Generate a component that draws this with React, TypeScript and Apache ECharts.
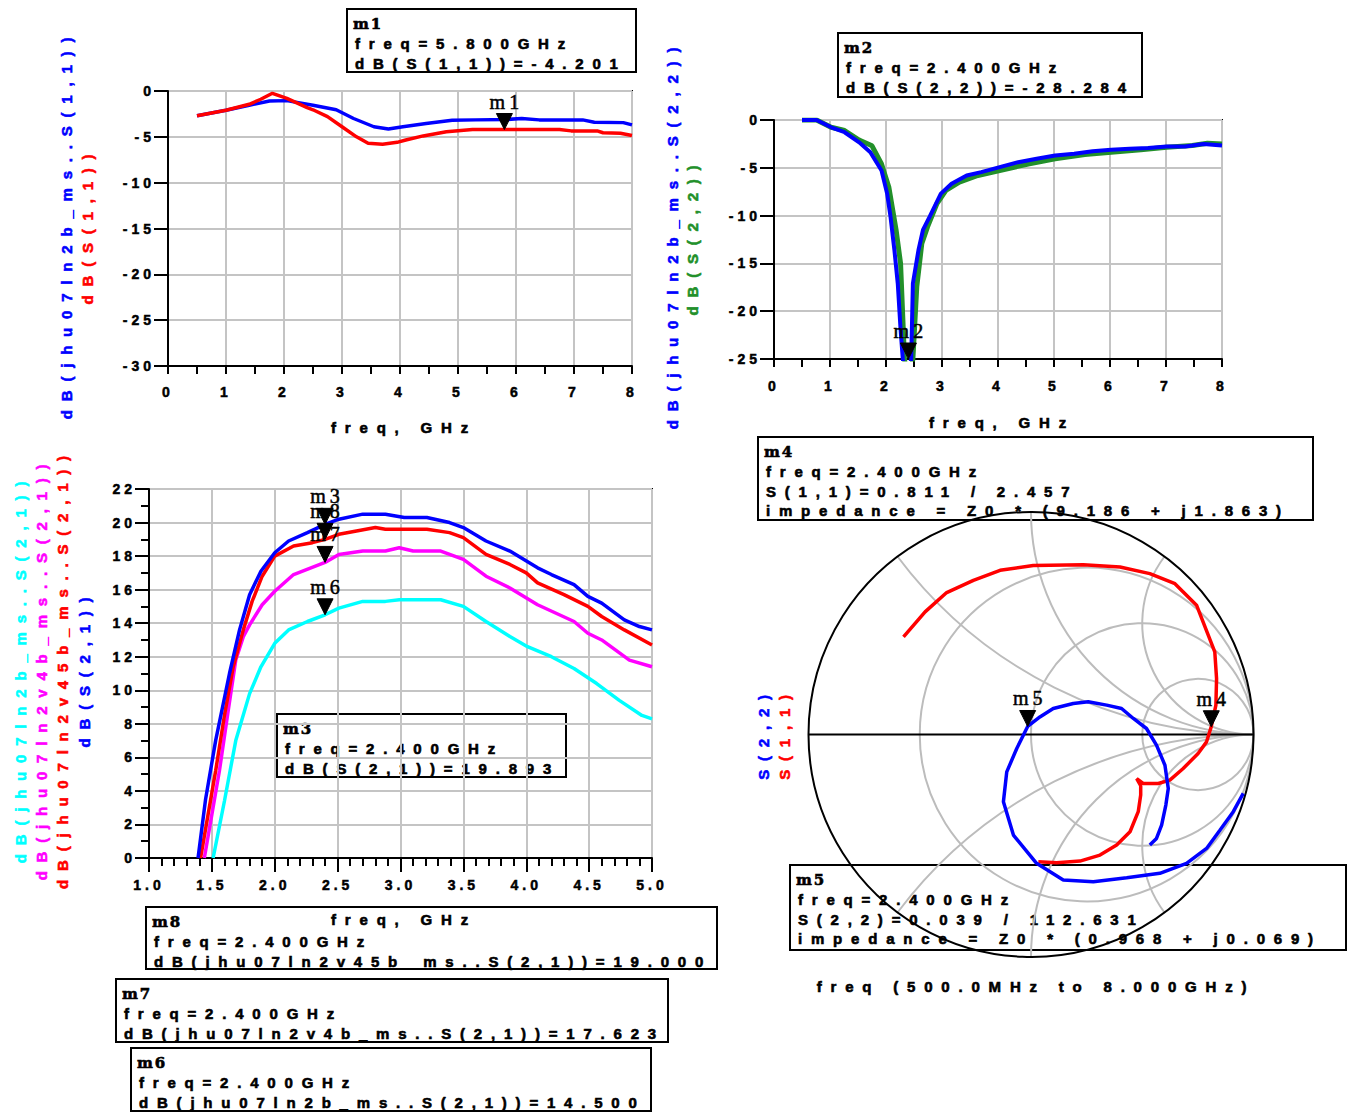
import React, { useEffect, useRef } from 'react';
import * as echarts from 'echarts';

/* ---------- |S11| in dB, 0.5–8 GHz ---------- */
const S11_REF_FREQ = [0.5, 1.0, 1.4, 1.75, 2.05, 2.5, 2.9, 3.2, 3.55, 3.8, 4.05, 4.45, 4.9, 5.3, 5.85, 6.1, 6.4, 7.15, 7.35, 7.85, 8.0];
const S11_REF_DB = [-2.7, -2.1, -1.55, -1.1, -1.05, -1.55, -2.05, -3.0, -3.9, -4.15, -3.9, -3.55, -3.2, -3.15, -3.1, -3.0, -3.15, -3.15, -3.4, -3.45, -3.7];
const S11_FREQ = [0.5, 1.0, 1.4, 1.6, 1.8, 2.05, 2.4, 2.5, 2.75, 3.0, 3.25, 3.45, 3.7, 3.95, 4.1, 4.4, 4.8, 5.05, 5.25, 5.8, 6.75, 6.95, 7.4, 7.5, 7.8, 8.0];
const S11_DB = [-2.7, -2.1, -1.45, -0.9, -0.25, -0.8, -1.82, -2.05, -2.8, -3.9, -5.0, -5.7, -5.8, -5.6, -5.35, -4.9, -4.45, -4.3, -4.2, -4.201, -4.2, -4.35, -4.35, -4.55, -4.6, -4.85];

/* ---------- |S22| in dB, 0.5–8 GHz ---------- */
const S22_REF_FREQ = [0.5, 0.76, 1.02, 1.26, 1.52, 1.72, 1.92, 2.02, 2.08, 2.15, 2.21, 2.26, 2.3, 2.37, 2.45, 2.48, 2.58, 2.66, 2.78, 2.98, 3.17, 3.44, 3.7, 4.03, 4.36, 4.69, 5.02, 5.36, 5.69, 6.02, 6.35, 6.68, 7.01, 7.34, 7.67, 8.0];
const S22_REF_DB = [0, 0, -0.76, -1.28, -2.33, -3.37, -5.28, -7.7, -10.1, -13.6, -17.1, -21.9, -25, -27.5, -25, -17.1, -13.6, -11.5, -10.1, -7.7, -6.67, -5.8, -5.45, -4.93, -4.41, -4.06, -3.72, -3.54, -3.26, -3.12, -3.02, -2.92, -2.78, -2.78, -2.5, -2.67];
const S22_FREQ = [0.5, 0.76, 1.02, 1.26, 1.52, 1.75, 1.92, 2.05, 2.18, 2.26, 2.33, 2.4, 2.48, 2.55, 2.64, 2.74, 2.91, 3.07, 3.31, 3.64, 4.03, 4.56, 5.02, 5.55, 6.02, 6.55, 7.01, 7.47, 7.74, 8.0];
const S22_DB = [0, 0, -0.76, -1.1, -2.1, -2.7, -4.6, -7.0, -11.5, -15.0, -25, -28.284, -25, -17.4, -12.9, -11.2, -8.75, -7.36, -6.5, -5.8, -5.28, -4.58, -4.06, -3.6, -3.37, -3.12, -2.85, -2.67, -2.43, -2.5];

/* ---------- |S21| gain in dB, 1–5 GHz ---------- */
const S21_LN2B_FREQ = [1.51, 1.6, 1.69, 1.8, 1.89, 2.0, 2.11, 2.26, 2.4, 2.51, 2.7, 2.88, 2.99, 3.32, 3.5, 3.68, 3.87, 4.01, 4.2, 4.38, 4.56, 4.74, 4.92, 5.0];
const S21_LN2B_DB = [0, 3.4, 7.0, 9.8, 11.4, 12.8, 13.6, 14.1, 14.5, 14.9, 15.3, 15.3, 15.4, 15.4, 15.0, 14.1, 13.2, 12.6, 12.0, 11.3, 10.4, 9.4, 8.5, 8.3];
const S21_V4B_FREQ = [1.44, 1.5, 1.56, 1.63, 1.69, 1.75, 1.8, 1.9, 2.0, 2.15, 2.4, 2.51, 2.7, 2.88, 2.99, 3.1, 3.32, 3.5, 3.68, 3.87, 4.09, 4.38, 4.49, 4.6, 4.82, 5.0];
const S21_V4B_DB = [0, 2.6, 5.2, 8.8, 11.8, 13.2, 13.9, 15.1, 15.9, 16.9, 17.623, 18.1, 18.3, 18.3, 18.5, 18.3, 18.3, 17.8, 16.8, 16.1, 15.1, 14.1, 13.4, 13.0, 11.8, 11.4];
const S21_V45B_FREQ = [1.41, 1.47, 1.53, 1.6, 1.67, 1.75, 1.82, 1.9, 2.0, 2.15, 2.3, 2.4, 2.51, 2.65, 2.8, 2.88, 3.05, 3.21, 3.39, 3.5, 3.68, 3.87, 4.0, 4.09, 4.3, 4.49, 4.6, 4.78, 5.0];
const S21_V45B_DB = [0, 2.6, 5.2, 8.5, 11.4, 13.6, 15.3, 16.8, 18.0, 18.6, 18.8, 19.0, 19.3, 19.5, 19.7, 19.6, 19.6, 19.6, 19.4, 19.1, 18.1, 17.5, 17.0, 16.4, 15.7, 15.0, 14.4, 13.6, 12.7];
const S21_FREQ = [1.39, 1.45, 1.53, 1.64, 1.72, 1.8, 1.89, 2.0, 2.11, 2.26, 2.4, 2.51, 2.7, 2.88, 3.03, 3.21, 3.39, 3.5, 3.68, 3.87, 4.09, 4.2, 4.38, 4.49, 4.6, 4.78, 4.9, 5.0];
const S21_DB = [0, 3.5, 7.0, 11.0, 13.6, 15.7, 17.1, 18.2, 18.9, 19.4, 19.893, 20.2, 20.5, 20.5, 20.3, 20.3, 20.0, 19.7, 18.9, 18.3, 17.3, 16.9, 16.3, 15.6, 15.2, 14.2, 13.8, 13.6];

/* ---------- Reflection coefficients on the Smith chart (Re, Im) ---------- */
const SMITH_S11_RE = [-0.573, -0.476, -0.379, -0.259, -0.139, 0.010, 0.235, 0.400, 0.534, 0.647, 0.744, 0.826, 0.834, 0.831, 0.810, 0.789, 0.751, 0.684, 0.624, 0.572, 0.504, 0.475, 0.493, 0.493, 0.482, 0.445, 0.385, 0.310, 0.220, 0.115, 0.033];
const SMITH_S11_IM = [0.439, 0.551, 0.638, 0.693, 0.738, 0.760, 0.763, 0.753, 0.723, 0.678, 0.581, 0.371, 0.251, 0.132, 0.035, -0.033, -0.085, -0.153, -0.205, -0.220, -0.220, -0.198, -0.230, -0.272, -0.347, -0.437, -0.497, -0.542, -0.569, -0.576, -0.572];
const SMITH_S22_RE = [0.954, 0.909, 0.849, 0.789, 0.699, 0.579, 0.430, 0.280, 0.145, 0.025, -0.079, -0.124, -0.109, -0.064, -0.015, 0.040, 0.100, 0.190, 0.257, 0.340, 0.407, 0.460, 0.519, 0.564, 0.602, 0.617, 0.606, 0.587, 0.564, 0.534];
const SMITH_S22_IM = [-0.265, -0.347, -0.430, -0.512, -0.579, -0.624, -0.644, -0.662, -0.654, -0.579, -0.452, -0.302, -0.168, -0.063, 0.036, 0.079, 0.117, 0.139, 0.147, 0.132, 0.117, 0.072, 0.027, -0.048, -0.138, -0.243, -0.317, -0.407, -0.467, -0.497];

/* Smith chart grid: constant-resistance circles and constant-reactance arcs */
const SMITH_R_CIRCLES = [1 / 3, 1, 3];
const SMITH_X_ARCS = [0.5, 1, 2, -0.5, -1, -2];

/* ---------- Markers ---------- */
const M1 = { name: 'm1', freq: 5.8, db: -4.201 };
const M2 = { name: 'm2', freq: 2.4, db: -28.284 };
const M3 = { name: 'm3', freq: 2.4, db: 19.893 };
const M8 = { name: 'm8', freq: 2.4, db: 19.0 };
const M7 = { name: 'm7', freq: 2.4, db: 17.623 };
const M6 = { name: 'm6', freq: 2.4, db: 14.5 };
const M4 = { name: 'm4', freq: 2.4, mag: 0.811, ang: 2.457, zr: 9.186, zx: 1.863 };
const M5 = { name: 'm5', freq: 2.4, mag: 0.039, ang: 112.631, zr: 0.968, zx: 0.069 };

/* ---------- Fonts ---------- */
const FONT_SANS = 'Liberation Sans';
const FONT_MARK = 'Liberation Serif';
const FONT_HEAD = 'DejaVu Serif';

// Wide character pitch of the data display: 15px body text, 14px tick labels.
const SHEET_CSS = `
.ads-sheet text[style*="Liberation Sans"][style*="15px"] { letter-spacing: 8.8px; }
.ads-sheet text[style*="Liberation Sans"][style*="14px"] { letter-spacing: 4px; }
.ads-sheet text[style*="Liberation Serif"] { letter-spacing: 4px; }
.ads-sheet text[style*="DejaVu Serif"] { letter-spacing: 2px; }
`;

const BLUE = '#0000ff';
const RED = '#ff0000';
const GREEN = '#22902a';
const CYAN = '#00ffff';
const MAGENTA = '#ff00ff';
const GRID_GRAY = '#c4c4c4';
const SMITH_GRAY = '#bcbcbc';

const TL_YMIN = -30;
const TR_YMIN = -25;

const zip = (a: number[], b: number[]) => a.map((v, i) => [v, b[i]]);
const fixed3 = (v: number) => v.toFixed(3);
const polar = (mag: number, deg: number) => [mag * Math.cos((deg * Math.PI) / 180), mag * Math.sin((deg * Math.PI) / 180)];

function lineSeries(data: number[][], color: string, width: number, axis: number) {
  return {
    type: 'line',
    data,
    xAxisIndex: axis,
    yAxisIndex: axis,
    showSymbol: false,
    symbol: 'none',
    clip: true,
    silent: true,
    lineStyle: { color, width },
    itemStyle: { color },
    z: 3,
  };
}

// Heavy text: fill plus a thin stroke of the same colour.
function textStyle(text: string, font: string, fill: string, align: string, vAlign: string, weight = 0.6) {
  return {
    text,
    font,
    fill,
    stroke: fill,
    lineWidth: weight,
    align,
    verticalAlign: vAlign,
    textAlign: align,
    textVerticalAlign: vAlign,
  };
}

// Inverted black triangle whose tip sits on the marker value, with its name above.
function markerSeries(axis: number, marks: { name: string }[], values: number[][]) {
  return {
    type: 'custom',
    xAxisIndex: axis,
    yAxisIndex: axis,
    silent: true,
    clip: false,
    z: 10,
    data: values,
    renderItem: (params: any, api: any) => {
      const p = api.coord([api.value(0), api.value(1)]);
      return {
        type: 'group',
        children: [
          {
            type: 'polygon',
            shape: { points: [[p[0] - 8, p[1] - 16], [p[0] + 8, p[1] - 16], [p[0], p[1]]] },
            style: { fill: '#000', stroke: '#000', lineWidth: 1 },
          },
          {
            type: 'text',
            x: p[0] + 2,
            y: p[1] - 28,
            style: textStyle(marks[params.dataIndex].name, `20px ${FONT_MARK}`, '#000', 'center', 'middle', 0.5),
          },
        ],
      };
    },
  };
}

function smithGridSeries(axis: number) {
  return {
    type: 'custom',
    xAxisIndex: axis,
    yAxisIndex: axis,
    silent: true,
    clip: false,
    z: 1,
    data: [[0, 0]],
    renderItem: (_params: any, api: any) => {
      const c = api.coord([0, 0]);
      const R = api.size([1, 1])[0];
      const gray = { stroke: SMITH_GRAY, fill: 'none', lineWidth: 2 };
      const children: any[] = [];
      SMITH_R_CIRCLES.forEach((r) => {
        const cc = api.coord([r / (1 + r), 0]);
        children.push({ type: 'circle', shape: { cx: cc[0], cy: cc[1], r: R / (1 + r) }, style: gray });
      });
      SMITH_X_ARCS.forEach((x) => {
        const cc = api.coord([1, 1 / x]);
        const p1 = api.coord([1, 0]);
        const p2 = api.coord([(x * x - 1) / (x * x + 1), (2 * x) / (x * x + 1)]);
        const a1 = Math.atan2(p1[1] - cc[1], p1[0] - cc[0]);
        const a2 = Math.atan2(p2[1] - cc[1], p2[0] - cc[0]);
        const start = x > 0 ? a1 : a2;
        let end = x > 0 ? a2 : a1;
        while (end < start) end += Math.PI * 2;
        children.push({
          type: 'arc',
          shape: { cx: cc[0], cy: cc[1], r: R / Math.abs(x), startAngle: start, endAngle: end, clockwise: true },
          style: gray,
        });
      });
      children.push({ type: 'line', shape: { x1: c[0] - R, y1: c[1], x2: c[0] + R, y2: c[1] }, style: { stroke: '#000', lineWidth: 2 } });
      children.push({ type: 'circle', shape: { cx: c[0], cy: c[1], r: R }, style: { stroke: '#000', fill: 'none', lineWidth: 2 } });
      return { type: 'group', children };
    },
  };
}

function valueAxis(extra: any) {
  const { tickLen, minor, minorLen, labelMargin, formatter, ...rest } = extra;
  return {
    type: 'value',
    axisLine: { show: true, onZero: false, lineStyle: { color: '#000', width: 2 } },
    axisTick: { show: true, inside: false, length: tickLen, lineStyle: { color: '#000', width: 2 } },
    minorTick: minor
      ? { show: true, splitNumber: minor, length: minorLen, lineStyle: { color: '#000', width: 2 } }
      : { show: false },
    splitLine: { show: true, lineStyle: { color: GRID_GRAY, width: 2 } },
    minorSplitLine: { show: false },
    axisLabel: {
      color: '#000',
      fontFamily: FONT_SANS,
      fontWeight: 'bold',
      fontSize: 14,
      textBorderColor: '#000',
      textBorderWidth: 0.5,
      margin: labelMargin,
      formatter,
    },
    ...rest,
  };
}

function markerBox(x: number, y: number, w: number, h: number, lines: string[]) {
  const children: any[] = [
    { type: 'rect', shape: { x: 0, y: 0, width: w, height: h }, style: { fill: 'none', stroke: '#000', lineWidth: 2 } },
  ];
  lines.forEach((t, i) => {
    children.push({
      type: 'text',
      x: i === 0 ? 6 : 8,
      y: 15 + i * 19.5,
      style: textStyle(t, i === 0 ? `bold 15px ${FONT_HEAD}` : `bold 15px ${FONT_SANS}`, '#000', 'left', 'middle'),
    });
  });
  return { type: 'group', x, y, children };
}

function label(x: number, y: number, text: string, fill: string, vertical = false) {
  return {
    type: 'text',
    x: vertical ? x : x + 4,
    y: vertical ? y - 4 : y,
    rotation: vertical ? Math.PI / 2 : 0,
    style: textStyle(text, `bold 15px ${FONT_SANS}`, fill, 'center', 'middle'),
  };
}

function buildOption() {
  const m4 = polar(M4.mag, M4.ang);
  const m5 = polar(M5.mag, M5.ang);
  const boxes = [
    markerBox(347, 9, 289, 63, [M1.name, `freq=${M1.freq.toFixed(3)}GHz`, `dB(S(1,1))=${fixed3(M1.db)}`]),
    markerBox(838, 33, 304, 64, [M2.name, `freq=${M2.freq.toFixed(3)}GHz`, `dB(S(2,2))=${fixed3(M2.db)}`]),
    markerBox(277, 714, 289, 63, [M3.name, `freq=${M3.freq.toFixed(3)}GHz`, `dB(S(2,1))=${fixed3(M3.db)}`]),
    markerBox(758, 437, 555, 83, [
      M4.name,
      `freq=${M4.freq.toFixed(3)}GHz`,
      `S(1,1)=${fixed3(M4.mag)} / ${fixed3(M4.ang)}`,
      `impedance = Z0 * (${fixed3(M4.zr)} + j${fixed3(M4.zx)})`,
    ]),
    markerBox(790, 865, 556, 85, [
      M5.name,
      `freq=${M5.freq.toFixed(3)}GHz`,
      `S(2,2)=${fixed3(M5.mag)} / ${fixed3(M5.ang)}`,
      `impedance = Z0 * (${fixed3(M5.zr)} + j${fixed3(M5.zx)})`,
    ]),
    markerBox(146, 907, 571, 62, [M8.name, `freq=${M8.freq.toFixed(3)}GHz`, `dB(jhu07ln2v45b_ms..S(2,1))=${fixed3(M8.db)}`]),
    markerBox(116, 979, 552, 63, [M7.name, `freq=${M7.freq.toFixed(3)}GHz`, `dB(jhu07ln2v4b_ms..S(2,1))=${fixed3(M7.db)}`]),
    markerBox(131, 1048, 520, 63, [M6.name, `freq=${M6.freq.toFixed(3)}GHz`, `dB(jhu07ln2b_ms..S(2,1))=${fixed3(M6.db)}`]),
  ];

  const labels = [
    label(400, 427, 'freq, GHz', '#000'),
    label(998, 422, 'freq, GHz', '#000'),
    label(400, 919, 'freq, GHz', '#000'),
    label(1032, 986, 'freq (500.0MHz to 8.000GHz)', '#000'),
    label(66, 228, 'dB(jhu07ln2b_ms..S(1,1))', BLUE, true),
    label(87, 229, 'dB(S(1,1))', RED, true),
    label(672, 238, 'dB(jhu07ln2b_ms..S(2,2))', BLUE, true),
    label(692, 240, 'dB(S(2,2))', GREEN, true),
    label(20, 672, 'dB(jhu07ln2b_ms..S(2,1))', CYAN, true),
    label(41, 672, 'dB(jhu07ln2v4b_ms..S(2,1))', MAGENTA, true),
    label(62, 672, 'dB(jhu07ln2v45b_ms..S(2,1))', RED, true),
    label(84, 672, 'dB(S(2,1))', BLUE, true),
    label(763, 737, 'S(2,2)', BLUE, true),
    label(784, 737, 'S(1,1)', RED, true),
  ];

  const frame = { show: true, borderColor: '#000', borderWidth: 2, backgroundColor: 'transparent', containLabel: false, outerBoundsMode: 'none' };

  return {
    animation: false,
    backgroundColor: '#fff',
    grid: [
      { ...frame, left: 168, top: 91, width: 464, height: 275 },
      { ...frame, left: 774, top: 120, width: 448, height: 239 },
      { ...frame, left: 149, top: 489, width: 503, height: 369 },
      { ...frame, show: false, left: 808.5, top: 512, width: 445, height: 445 },
    ],
    xAxis: [
      valueAxis({ gridIndex: 0, min: 0, max: 8, interval: 1, tickLen: 8, minor: 2, minorLen: 8, labelMargin: 19 }),
      valueAxis({ gridIndex: 1, min: 0, max: 8, interval: 1, tickLen: 8, minor: 2, minorLen: 8, labelMargin: 20 }),
      valueAxis({ gridIndex: 2, min: 1.0, max: 5.0, interval: 0.5, tickLen: 14, minor: 5, minorLen: 8, labelMargin: 20, formatter: (v: number) => v.toFixed(1) }),
      { type: 'value', gridIndex: 3, min: -1, max: 1, show: false },
    ],
    yAxis: [
      valueAxis({ gridIndex: 0, min: TL_YMIN, max: 0, interval: 5, tickLen: 14, labelMargin: 13 }),
      valueAxis({ gridIndex: 1, min: TR_YMIN, max: 0, interval: 5, tickLen: 14, labelMargin: 13 }),
      valueAxis({ gridIndex: 2, min: 0, max: 22, interval: 2, tickLen: 14, minor: 2, minorLen: 8, labelMargin: 13 }),
      { type: 'value', gridIndex: 3, min: -1, max: 1, show: false },
    ],
    graphic: { elements: [...boxes, ...labels] },
    series: [
      // input return loss
      lineSeries(zip(S11_REF_FREQ, S11_REF_DB), BLUE, 3.5, 0),
      lineSeries(zip(S11_FREQ, S11_DB), RED, 3.5, 0),
      markerSeries(0, [M1], [[M1.freq, M1.db]]),
      // output return loss
      lineSeries(zip(S22_FREQ, S22_DB), GREEN, 5, 1),
      lineSeries(zip(S22_REF_FREQ, S22_REF_DB), BLUE, 4, 1),
      // pinned to the lower edge when the value is off-scale
      markerSeries(1, [M2], [[M2.freq, Math.max(M2.db, TR_YMIN)]]),
      // gain
      lineSeries(zip(S21_LN2B_FREQ, S21_LN2B_DB), CYAN, 3.5, 2),
      lineSeries(zip(S21_V4B_FREQ, S21_V4B_DB), MAGENTA, 3.5, 2),
      lineSeries(zip(S21_V45B_FREQ, S21_V45B_DB), RED, 3.5, 2),
      lineSeries(zip(S21_FREQ, S21_DB), BLUE, 3.5, 2),
      markerSeries(2, [M6, M7, M8, M3], [[M6.freq, M6.db], [M7.freq, M7.db], [M8.freq, M8.db], [M3.freq, M3.db]]),
      // Smith chart
      smithGridSeries(3),
      lineSeries(zip(SMITH_S11_RE, SMITH_S11_IM), RED, 3.5, 3),
      lineSeries(zip(SMITH_S22_RE, SMITH_S22_IM), BLUE, 3.5, 3),
      markerSeries(3, [M5, M4], [m5, m4]),
    ],
  };
}

export default function App() {
  const ref = useRef<HTMLDivElement>(null);
  useEffect(() => {
    document.body.style.margin = '0';
    const chart = echarts.init(ref.current as HTMLDivElement, null, { renderer: 'svg' });
    chart.setOption(buildOption() as any);
    return () => chart.dispose();
  }, []);
  return (
    <>
      <style>{SHEET_CSS}</style>
      <div ref={ref} className="ads-sheet" style={{ width: 1351, height: 1113, background: '#fff' }} />
    </>
  );
}
